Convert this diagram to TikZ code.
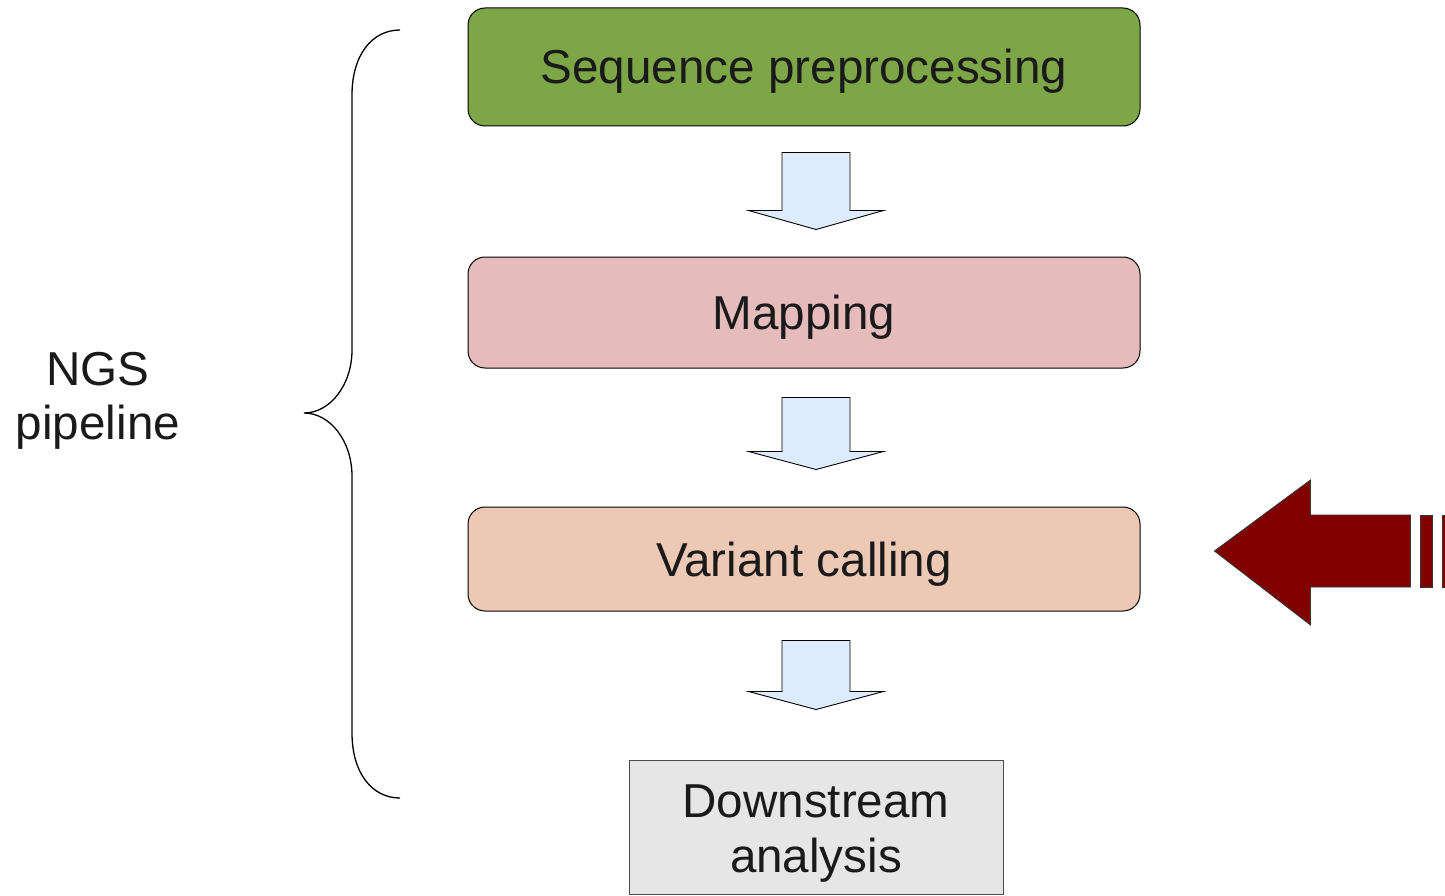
\documentclass[tikz,border=0pt]{standalone}
\usepackage{fontspec}
\setmainfont{Liberation Sans}
\usepackage{tikz}
\usetikzlibrary{shapes,arrows,calc,positioning}

\definecolor{prepgreen}{HTML}{7DA647}
\definecolor{mappink}{HTML}{E6BBBC}
\definecolor{varpeach}{HTML}{EDC8B5}
\definecolor{flowblue}{HTML}{DDEBFD}
\definecolor{hintred}{HTML}{800000}
\definecolor{downgray}{HTML}{E6E6E6}
\definecolor{txt}{HTML}{1A1A1A}

% block arrow pointing down: #1 top centre, #2 shaft length, #3 head length
\newcommand{\flowarrow}[3]{%
	\draw [Flow] (#1) ++(-34,0) -- ++(68,0) -- ++(0,#2) -- ++(33.5,0)
		-- ++(-67.5,#3) -- ++(-67.5,-#3) -- ++(33.5,0) -- cycle;}

\begin{document}
\begin{tikzpicture}[x=1pt,y=-1pt]
				\tikzstyle{Box}		= [draw, line width=1pt, rounded corners=17pt, minimum width=672pt, inner sep=0pt, text height=44pt, text depth=10pt, text=txt, font=\fontsize{47.6}{55}\selectfont]
				\tikzstyle{Prep}		= [fill=prepgreen, minimum height=118pt]
				\tikzstyle{Map}		= [fill=mappink, minimum height=111pt]
				\tikzstyle{Var}		= [fill=varpeach, minimum height=104pt]
				\tikzstyle{Down}		= [draw=black!70, fill=downgray, line width=1pt, minimum width=374pt, minimum height=134pt, inner sep=0pt, text height=100pt, text depth=10pt, align=center, text=txt, font=\fontsize{47.6}{55}\selectfont]
				\tikzstyle{Flow}		= [draw, fill=flowblue, line width=0.9pt]
				\tikzstyle{Hint}		= [draw=black!80, fill=hintred, line width=0.9pt]
				\tikzstyle{Brace}	= [line width=1.3pt]

				\useasboundingbox (0,0) rectangle (1445,896);

				\node (prep) at (804,67.0) [Box][Prep] {Sequence preprocessing};
				\node (map) at (804,312.5) [Box][Map] {Mapping};
				\node (var) at (804,559.0) [Box][Var] {Variant calling};
				\node (down) at (816,827.0) [Down] {Downstream\\analysis};

				\node (ngs) at (98,401) [align=center, text=txt, font=\fontsize{47.6}{54}\selectfont] {NGS\\pipeline};

				% arrows between the steps
				\coordinate (a1) at ($(prep.south)+(12,26)$);
				\coordinate (a2) at ($(map.south)+(12,29)$);
				\coordinate (a3) at ($(var.south)+(12,29)$);
				\flowarrow{a1}{58}{19}
				\flowarrow{a2}{54}{18}
				\flowarrow{a3}{51}{18}

				% curly brace round the pipeline
				\draw [Brace] (400,30) .. controls (372,30) and (352,55) .. (352,95)
					-- (352,350) .. controls (352,385) and (330,413) .. (304,413)
					.. controls (330,413) and (352,441) .. (352,476)
					-- (352,733) .. controls (352,773) and (372,798) .. (400,798);

				% big red arrow at variant calling
				\coordinate (hint) at ($(var.east)+(74,-8)$);
				\draw [Hint] (hint) -- ++(96,-71) -- ++(0,35) -- ++(100,0) -- ++(0,72)
					-- ++(-100,0) -- ++(0,38) -- cycle;
				\draw [Hint] ($(hint)+(206,-36)$) rectangle ++(12,72);
				\draw [Hint] ($(hint)+(228,-36)$) rectangle ++(12,72);
			\end{tikzpicture}
\end{document}
